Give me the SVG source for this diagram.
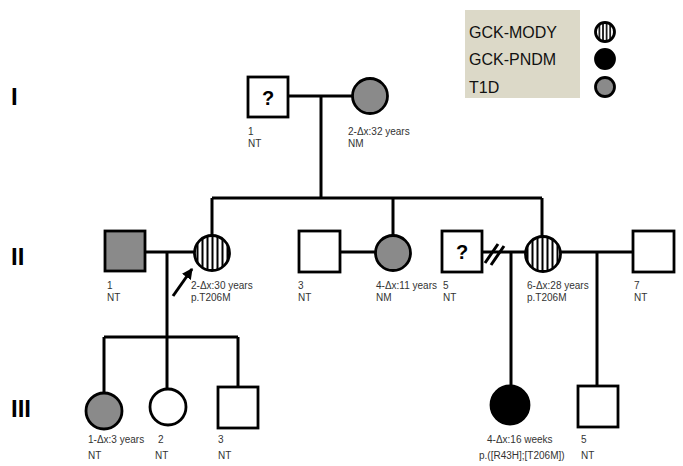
<svg xmlns="http://www.w3.org/2000/svg" width="683" height="466" viewBox="0 0 683 466">
<style>
.sym{stroke:#000;stroke-width:2.8;fill:#fff}
.aff{fill:#8a8a8a}
.pndm{fill:#000}
.mody{fill:url(#stripes)}
.ln{stroke:#000;stroke-width:3;fill:none}
.lbl{font-family:"Liberation Sans",Arial,sans-serif;font-size:10px;fill:#333}
.gen{font-family:"Liberation Sans",Arial,sans-serif;font-size:24px;font-weight:bold;fill:#000}
.q{font-family:"Liberation Sans",Arial,sans-serif;font-size:20px;font-weight:bold;fill:#000;text-anchor:middle}
.leg{font-family:"Liberation Sans",Arial,sans-serif;font-size:16px;fill:#111}
</style>
<defs>
<pattern id="stripes" patternUnits="userSpaceOnUse" width="5" height="5">
<rect width="5" height="5" fill="#fff"/>
<rect x="1.5" width="2" height="5" fill="#000"/>
</pattern>
<pattern id="stripesSm" patternUnits="userSpaceOnUse" width="3.6" height="4">
<rect width="3.6" height="4" fill="#fff"/>
<rect x="1" width="1.6" height="4" fill="#000"/>
</pattern>
<marker id="arr" viewBox="0 0 10 10" refX="9" refY="5" markerWidth="3.6" markerHeight="3.6" orient="auto">
<path d="M0,0 L10,5 L0,10 z" fill="#000"/>
</marker>
</defs>

<g id="legend">
<rect x="465" y="10" width="115" height="88" fill="#dcd9c8"/>
<text class="leg" x="469" y="38">GCK-MODY</text>
<text class="leg" x="469" y="65">GCK-PNDM</text>
<text class="leg" x="469" y="93">T1D</text>
<circle class="sym" cx="605" cy="32" r="9.5" fill="url(#stripesSm)" style="fill:url(#stripesSm)"/>
<circle class="sym pndm" cx="605" cy="59" r="9.5"/>
<circle class="sym aff" cx="605" cy="87" r="9.5"/>
</g>

<g id="generations">
<text class="gen" x="11" y="105">I</text>
<text class="gen" x="11" y="265">II</text>
<text class="gen" x="11" y="417">III</text>
</g>

<g id="connectors">
<path class="ln" d="M288,96 H352"/>
<path class="ln" d="M321,96 V198"/>
<path class="ln" d="M212,198 H542"/>
<path class="ln" d="M212,198 V236"/>
<path class="ln" d="M393,198 V236"/>
<path class="ln" d="M542,198 V237"/>
<path class="ln" d="M145,252 H195"/>
<path class="ln" d="M340,252 H376"/>
<path class="ln" d="M482,252 H526"/>
<path class="ln" d="M560,252 H633"/>
<path class="ln" d="M485,263 L498,244 M491,265 L504,246" stroke-width="2.2"/>
<path class="ln" d="M167,252 V337"/>
<path class="ln" d="M104,337 H238"/>
<path class="ln" d="M104,337 V393"/>
<path class="ln" d="M167,337 V389"/>
<path class="ln" d="M238,337 V387"/>
<path class="ln" d="M511,252 V386"/>
<path class="ln" d="M597,252 V386"/>
<path class="ln" d="M173,296 L192,269" marker-end="url(#arr)"/>
</g>

<g id="I-1">
<rect class="sym" x="248" y="77" width="40" height="40"/>
<text class="q" x="268" y="105">?</text>
<text class="lbl" x="248" y="135">1</text>
<text class="lbl" x="248" y="147">NT</text>
</g>
<g id="I-2">
<circle class="sym aff" cx="370" cy="96" r="17.5"/>
<text class="lbl" x="348" y="135">2-Δx:32 years</text>
<text class="lbl" x="348" y="147">NM</text>
</g>

<g id="II-1">
<rect class="sym aff" x="105" y="231" width="40" height="40"/>
<text class="lbl" x="107" y="289">1</text>
<text class="lbl" x="107" y="301">NT</text>
</g>
<g id="II-2">
<circle class="sym mody" cx="212" cy="253" r="17.5"/>
<text class="lbl" x="191" y="289">2-Δx:30 years</text>
<text class="lbl" x="191" y="301">p.T206M</text>
</g>
<g id="II-3">
<rect class="sym" x="299" y="231" width="41" height="41"/>
<text class="lbl" x="298" y="289">3</text>
<text class="lbl" x="298" y="301">NT</text>
</g>
<g id="II-4">
<circle class="sym aff" cx="393" cy="253" r="17.5"/>
<text class="lbl" x="376" y="289">4-Δx:11 years</text>
<text class="lbl" x="376" y="301">NM</text>
</g>
<g id="II-5">
<rect class="sym" x="442" y="231" width="40" height="41"/>
<text class="q" x="462" y="259">?</text>
<text class="lbl" x="443" y="289">5</text>
<text class="lbl" x="443" y="301">NT</text>
</g>
<g id="II-6">
<circle class="sym mody" cx="543" cy="254" r="17.5"/>
<text class="lbl" x="527" y="289">6-Δx:28 years</text>
<text class="lbl" x="527" y="301">p.T206M</text>
</g>
<g id="II-7">
<rect class="sym" x="633" y="231" width="41" height="41"/>
<text class="lbl" x="634" y="289">7</text>
<text class="lbl" x="634" y="301">NT</text>
</g>

<g id="III-1">
<circle class="sym aff" cx="104" cy="411" r="18"/>
<text class="lbl" x="88" y="443">1-Δx:3 years</text>
<text class="lbl" x="88" y="459">NT</text>
</g>
<g id="III-2">
<circle class="sym" cx="168" cy="407" r="18"/>
<text class="lbl" x="158" y="443">2</text>
<text class="lbl" x="155" y="459">NT</text>
</g>
<g id="III-3">
<rect class="sym" x="218" y="387" width="40" height="41"/>
<text class="lbl" x="218" y="443">3</text>
<text class="lbl" x="218" y="459">NT</text>
</g>
<g id="III-4">
<circle class="sym pndm" cx="510" cy="405" r="19"/>
<text class="lbl" x="487" y="443">4-Δx:16 weeks</text>
<text class="lbl" x="479" y="459">p.([R43H];[T206M])</text>
</g>
<g id="III-5">
<rect class="sym" x="578" y="386" width="40" height="41"/>
<text class="lbl" x="581" y="443">5</text>
<text class="lbl" x="581" y="459">NT</text>
</g>
</svg>
